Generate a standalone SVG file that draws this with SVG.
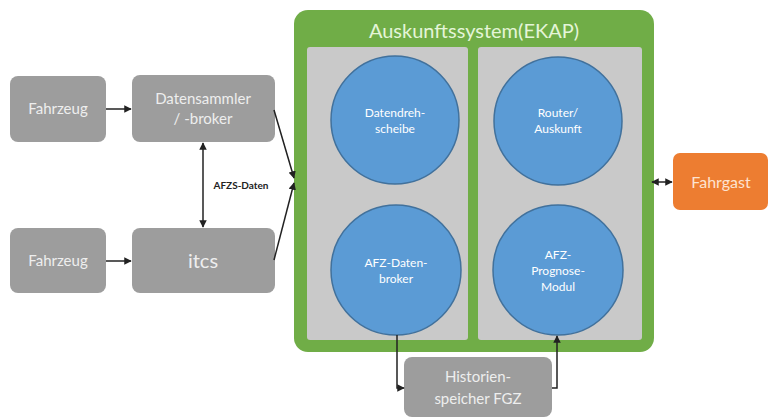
<svg xmlns="http://www.w3.org/2000/svg" width="768" height="419" viewBox="0 0 768 419">
<defs>
<style>
.node{fill:#9d9d9d;}
.nt{font-family:Lato,"Liberation Sans",sans-serif;fill:#eeeeee;text-anchor:middle;}
.circ{fill:#5b9bd5;stroke:#41719c;stroke-width:1.5;}
.ct{font-family:Lato,"Liberation Sans",sans-serif;fill:#ffffff;font-size:12px;text-anchor:middle;}
.panel{fill:#c9c9c9;}
.conn{stroke:#222;stroke-width:1.5;fill:none;}
</style>
<marker id="ah" viewBox="0 0 10 10" refX="9" refY="5" markerWidth="5" markerHeight="5" orient="auto-start-reverse">
<path d="M0,0 L10,5 L0,10 z" fill="#222"/>
</marker>
</defs>
<rect width="768" height="419" fill="#ffffff"/>

<g id="ekap">
<rect x="294" y="10" width="360" height="342" rx="14" fill="#70ad47"/>
<text x="474" y="38" font-family="Lato,'Liberation Sans',sans-serif" font-size="20" fill="#e4f5d8" text-anchor="middle">Auskunftssystem(EKAP)</text>
<rect class="panel" x="307" y="47" width="161" height="293" rx="3"/>
<rect class="panel" x="478" y="47" width="164" height="293" rx="3"/>
</g>

<g id="fahrzeug1"><rect class="node" x="10" y="76" width="96" height="66" rx="8"/><text class="nt" x="58" y="114" font-size="15">Fahrzeug</text></g>
<g id="datensammler"><rect class="node" x="132" y="75" width="143" height="67" rx="8"/><text class="nt" x="203" y="104" font-size="15">Datensammler</text><text class="nt" x="203" y="124" font-size="15">/ -broker</text></g>
<g id="fahrzeug2"><rect class="node" x="10" y="228" width="96" height="65" rx="8"/><text class="nt" x="58" y="266" font-size="15">Fahrzeug</text></g>
<g id="itcs"><rect class="node" x="132" y="228" width="143" height="65" rx="8"/><text class="nt" x="203" y="268" font-size="20">itcs</text></g>

<g id="datendrehscheibe"><circle class="circ" cx="395" cy="120" r="64"/><text class="ct" x="395" y="117">Datendreh-</text><text class="ct" x="395" y="133">scheibe</text></g>
<g id="router"><circle class="circ" cx="558" cy="121" r="64"/><text class="ct" x="558" y="117">Router/</text><text class="ct" x="558" y="133">Auskunft</text></g>
<g id="afzbroker"><circle class="circ" cx="396" cy="270" r="65"/><text class="ct" x="396" y="267">AFZ-Daten-</text><text class="ct" x="396" y="283">broker</text></g>
<g id="afzprognose"><circle class="circ" cx="558" cy="270" r="65"/><text class="ct" x="558" y="259">AFZ-</text><text class="ct" x="558" y="275">Prognose-</text><text class="ct" x="558" y="291">Modul</text></g>

<g id="historien"><rect class="node" x="404" y="357" width="148" height="60" rx="8"/><text class="nt" x="478" y="382" font-size="15">Historien-</text><text class="nt" x="478" y="404" font-size="15">speicher FGZ</text></g>
<g id="fahrgast"><rect x="673" y="153" width="95" height="57" rx="7" fill="#ed7d31"/><text x="721" y="188" font-family="Lato,'Liberation Sans',sans-serif" font-size="16" fill="#fde3d0" text-anchor="middle">Fahrgast</text></g>

<g id="connectors">
<line class="conn" x1="106" y1="109" x2="131" y2="109" marker-end="url(#ah)"/>
<line class="conn" x1="106" y1="261" x2="131" y2="261" marker-end="url(#ah)"/>
<line class="conn" x1="203" y1="143" x2="203" y2="227" marker-start="url(#ah)" marker-end="url(#ah)"/>
<line class="conn" x1="274" y1="110" x2="294" y2="178" marker-end="url(#ah)"/>
<line class="conn" x1="274" y1="260" x2="294" y2="183" marker-end="url(#ah)"/>
<polyline class="conn" points="397,335 397,388 404,388" marker-end="url(#ah)"/>
<polyline class="conn" points="552,388 557,388 557,336" marker-end="url(#ah)"/>
<line class="conn" x1="652" y1="182" x2="672" y2="182" marker-start="url(#ah)" marker-end="url(#ah)"/>
<text x="241" y="189" font-family="Lato,'Liberation Sans',sans-serif" font-size="10" font-weight="bold" fill="#222" text-anchor="middle">AFZS-Daten</text>
</g>
</svg>
